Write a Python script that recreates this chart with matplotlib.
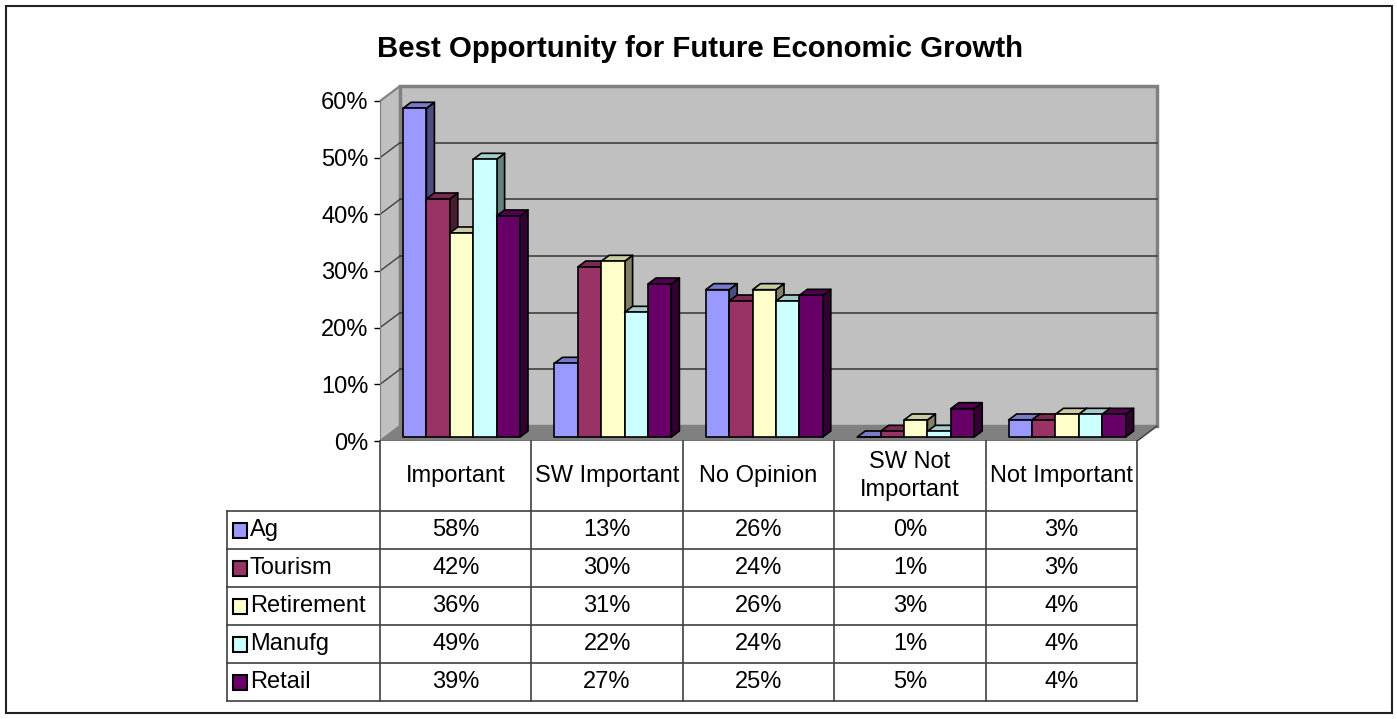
"""plot.py - Excel-style 3D column chart with data table"""
import numpy as np
import matplotlib
matplotlib.use("Agg")
import matplotlib.pyplot as plt
from matplotlib.patches import Polygon, Rectangle
from matplotlib.colors import to_rgb

plt.rcParams["font.family"] = ["Liberation Sans", "DejaVu Sans"]

title = "Best Opportunity for Future Economic Growth"
categories = ["Important", "SW Important", "No Opinion", "SW Not\nImportant", "Not Important"]
series = ["Ag", "Tourism", "Retirement", "Manufg", "Retail"]
ag = [58, 13, 26, 0, 3]
tourism = [42, 30, 24, 1, 3]
retirement = [36, 31, 26, 3, 4]
manufg = [49, 22, 24, 1, 4]
retail = [39, 27, 25, 5, 4]
values = [ag, tourism, retirement, manufg, retail]
colors = ["#9999FF", "#993366", "#FFFFCC", "#CCFFFF", "#660066"]
yticks = [0, 10, 20, 30, 40, 50, 60]

W, H = 1397, 719
COL_PX = 151.4       # px per category
PCT_PX = 5.667       # px per percent
DX, DY = 20 / COL_PX, 15 / PCT_PX          # wall depth in data units
BW = 23.4 / COL_PX                           # bar width
BDX, BDY = 8 / COL_PX, 6 / PCT_PX            # bar depth
BASE = 4 / PCT_PX
FS = 17

fig = plt.figure(figsize=(W / 100, H / 100), dpi=100)
fig.patches.append(Rectangle((6 / W, 6 / H), 1386 / W, 707 / H, transform=fig.transFigure,
                             fill=False, ec="#222222", lw=1.5))
fig.text(700 / W, 1 - 49 / H, title, ha="center", va="center",
         fontsize=21.2, fontweight="bold")

# ---- chart area
x0px, x1px, ytop, ybot = 380, 1160, 80, 441
ax = fig.add_axes([x0px / W, 1 - ybot / H, (x1px - x0px) / W, (ybot - ytop) / H])
ax.set_xlim(-0.5, -0.5 + (x1px - x0px) / COL_PX)
ax.set_ylim(0, (ybot - ytop) / PCT_PX)
ax.patch.set_visible(False)
for s in ["top", "right", "bottom"]:
    ax.spines[s].set_visible(False)
ax.spines["left"].set_bounds(0, 60)
ax.spines["left"].set_color("#808080")
ax.set_xticks([])
ax.set_yticks(yticks)
ax.set_yticklabels([f"{v}%" for v in yticks], fontsize=FS)
ax.tick_params(axis="y", length=6 * 0.72, width=1, pad=4, color="black")

n = len(categories)
L, R = -0.5, n - 0.5
# left wall, back wall, floor
ax.add_patch(Polygon([(L, 0), (L + DX, DY), (L + DX, 60 + DY), (L, 60)],
                     fc="#C0C0C0", ec="#808080", lw=1.5, zorder=1))
ax.add_patch(Polygon([(L + DX, DY), (R + DX, DY), (R + DX, 60 + DY), (L + DX, 60 + DY)],
                     fc="#C0C0C0", ec="#808080", lw=2.5, zorder=1))
ax.add_patch(Polygon([(L, 0), (R, 0), (R + DX, DY), (L + DX, DY)],
                     fc="#808080", ec="#808080", lw=1, zorder=1))
for v in yticks[1:-1]:
    ax.plot([L + DX, R + DX], [v + DY, v + DY], color="#404040", lw=1.2, zorder=2)
    ax.plot([L, L + DX], [v, v + DY], color="#404040", lw=1, zorder=2)
ax.plot([L, R], [0, 0], color="#404040", lw=1, zorder=2)
ax.plot([R, R + DX], [0, DY], color="#404040", lw=1, zorder=2)

def draw_bar(x, h, c, z):
    b = BASE
    c = np.array(to_rgb(c))
    kw = dict(ec="black", lw=1.2, joinstyle="round", zorder=z)
    ax.add_patch(Polygon([(x + BW, b), (x + BW + BDX, b + BDY), (x + BW + BDX, b + h + BDY),
                          (x + BW, b + h)], fc=c * 0.5, **kw))
    ax.add_patch(Polygon([(x, b + h), (x + BW, b + h), (x + BW + BDX, b + h + BDY),
                          (x + BDX, b + h + BDY)], fc=c * 0.8, **kw))
    ax.add_patch(Rectangle((x, b), BW, h, fc=c, **kw))

z = 3
for i in range(n):
    for j, vals in enumerate(values):
        draw_bar(i - 0.5 + 23 / COL_PX + j * BW, vals[i], colors[j], z)
        z += 1

# ---- data table
HDR = 70 / 38
RH = 38
tx0 = 227
tax = fig.add_axes([tx0 / W, 1 - (ybot + RH * (HDR + 5)) / H, (1137 - tx0) / W, RH * (HDR + 5) / H])
tax.set_xlim(-0.5 - (x0px - tx0) / COL_PX, R)
tax.set_ylim(HDR + 5, 0)
tax.axis("off")
LX = -0.5 - (x0px - tx0) / COL_PX
lc = "#404040"
for k in range(n + 1):
    tax.plot([k - 0.5, k - 0.5], [0, HDR + 5], color=lc, lw=1.2, clip_on=False)
tax.plot([LX, LX], [HDR, HDR + 5], color=lc, lw=1.2, clip_on=False)
for r in range(6):
    tax.plot([LX, R], [HDR + r, HDR + r], color=lc, lw=1.2, clip_on=False)

for i, cat in enumerate(categories):
    tax.text(i, HDR / 2, cat, ha="center", va="center", fontsize=FS, linespacing=1.3)
for j, (name, vals) in enumerate(zip(series, values)):
    yc = HDR + j + 0.5
    tax.add_patch(Rectangle((LX + 6 / COL_PX, yc - 7.5 / RH), 14 / COL_PX, 15 / RH,
                            fc=colors[j], ec="black", lw=1.5, clip_on=False))
    tax.text(LX + 23 / COL_PX, yc, name, ha="left", va="center", fontsize=FS)
    for i, v in enumerate(vals):
        tax.text(i, yc, f"{v}%", ha="center", va="center", fontsize=FS)

fig.savefig("out.png", dpi=100)
